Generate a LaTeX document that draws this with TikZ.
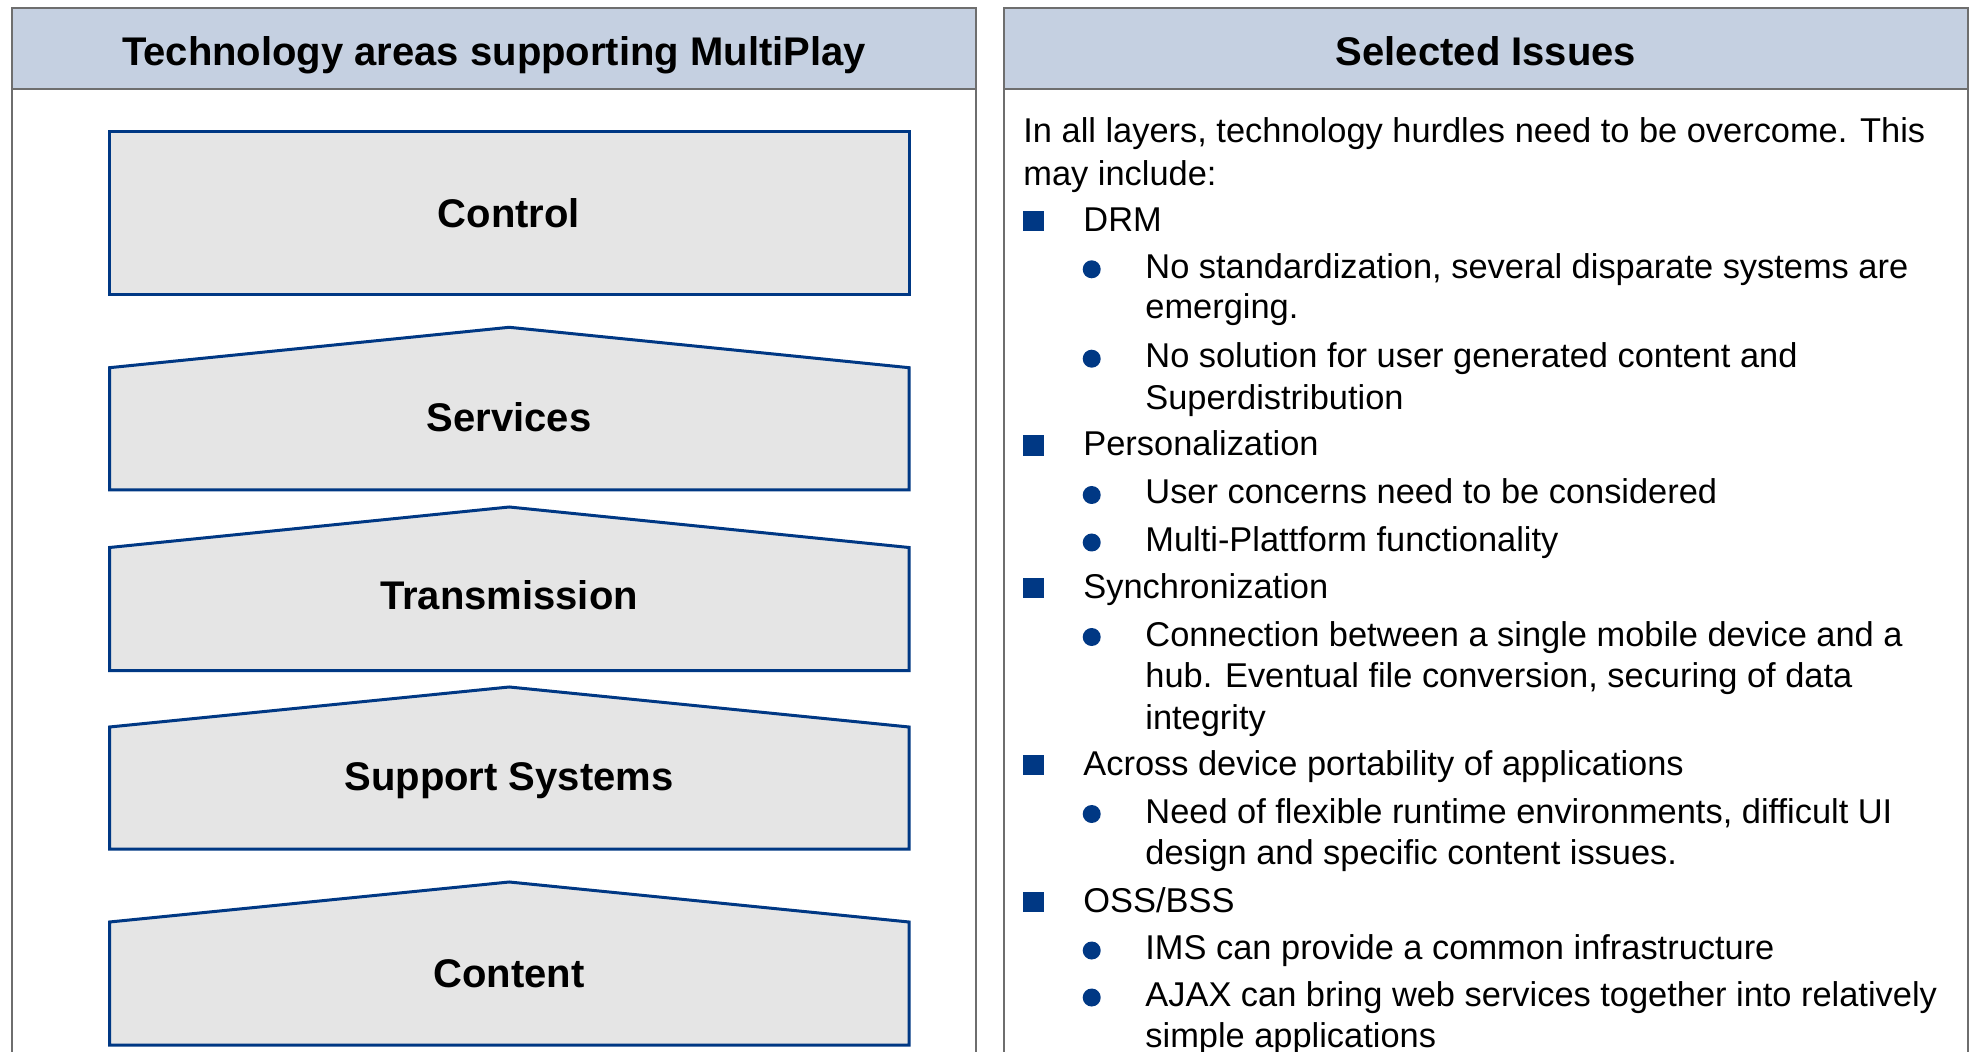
\documentclass[tikz,border=0pt]{standalone}
\usepackage{fontspec}
\setmainfont{Liberation Sans}
\definecolor{hdrblue}{RGB}{197,208,225}
\definecolor{layerfill}{RGB}{229,229,229}
\definecolor{layerline}{RGB}{0,56,132}
\definecolor{panelgray}{RGB}{110,110,110}

\begin{document}
\begin{tikzpicture}[x=0.5pt, y=-0.5pt,
panel/.style={draw=panelgray, line width=1pt},
header/.style={panel, fill=hdrblue},
header-text/.style={font=\fontsize{20}{24}\selectfont\bfseries, anchor=base},
layer/.style={draw=layerline, fill=layerfill, line width=1.5pt, line join=miter},
layer-text/.style={font=\fontsize{20}{24}\selectfont\bfseries, anchor=base},
body/.style={font=\fontsize{17.2}{20.7}\selectfont, anchor=base west, inner sep=0pt},
sq-bullet/.style={rectangle, fill=layerline, minimum size=10.25pt, inner sep=0pt, anchor=south west},
dot-bullet/.style={circle, fill=layerline, minimum size=9pt, inner sep=0pt}
]
\useasboundingbox (0,0) rectangle (1973,1052);
\fill[white] (0,0) rectangle (1973,1052);

% left panel
\draw[header] (12,8) rectangle (976,89.5);
\draw[panel] (12,89.5) -- (12,1060) (976,89.5) -- (976,1060);
\node[header-text] (hdr-tech) at (494,66) {Technology areas supporting MultiPlay};

% right panel
\draw[header] (1004,8) rectangle (1968,89.5);
\draw[panel] (1004,89.5) -- (1004,1060) (1968,89.5) -- (1968,1060);
\node[header-text] (hdr-issues) at (1486,66) {Selected Issues};

% layers
\draw[layer] (109.5,131.7) rectangle (909,295);
\node[layer-text] (control) at (509,228) {Control};

\draw[layer] (109.5,490) -- (109.5,367.7) -- (509.25,327.3) -- (909,367.7) -- (909,490) -- cycle;
\node[layer-text] (services) at (509,432) {Services};

\draw[layer] (109.5,670.5) -- (109.5,547.5) -- (509.25,507) -- (909,547.5) -- (909,670.5) -- cycle;
\node[layer-text] (transmission) at (509,610) {Transmission};

\draw[layer] (109.5,849) -- (109.5,727) -- (509.25,687) -- (909,727) -- (909,849) -- cycle;
\node[layer-text] (support) at (509,790) {Support Systems};

\draw[layer] (109.5,1045) -- (109.5,922) -- (509.25,882) -- (909,922) -- (909,1045) -- cycle;
\node[layer-text] (content) at (509,987) {Content};

% issues text
\node[body] (intro1) at (1023,143) {In all layers, technology hurdles need to be overcome. This};
\node[body] (intro2) at (1023,185.5) {may include:};

\node[sq-bullet] (drm-bullet) at (1022.7,231.7) {};
\node[body] (drm) at (1083,231.7) {DRM};
\node[dot-bullet] (drm-a-bullet) at (1091.7,269.3) {};
\node[body] (drm-a) at (1145,278.3) {No standardization, several disparate systems are};
\node[body] (drm-a2) at (1145,318.5) {emerging.};
\node[dot-bullet] (drm-b-bullet) at (1091.7,358.7) {};
\node[body] (drm-b) at (1145,367.7) {No solution for user generated content and};
\node[body] (drm-b2) at (1145,409.3) {Superdistribution};

\node[sq-bullet] (pers-bullet) at (1022.7,456) {};
\node[body] (pers) at (1083,456) {Personalization};
\node[dot-bullet] (pers-a-bullet) at (1091.7,495) {};
\node[body] (pers-a) at (1145,504) {User concerns need to be considered};
\node[dot-bullet] (pers-b-bullet) at (1091.7,542.5) {};
\node[body] (pers-b) at (1145,551.5) {Multi-Plattform functionality};

\node[sq-bullet] (sync-bullet) at (1022.7,598.5) {};
\node[body] (sync) at (1083,598.5) {Synchronization};
\node[dot-bullet] (sync-a-bullet) at (1091.7,637) {};
\node[body] (sync-a) at (1145,646) {Connection between a single mobile device and a};
\node[body] (sync-a2) at (1145,687.5) {hub. Eventual file conversion, securing of data};
\node[body] (sync-a3) at (1145,729) {integrity};

\node[sq-bullet] (port-bullet) at (1022.7,775.6) {};
\node[body] (port) at (1083,775.6) {Across device portability of applications};
\node[dot-bullet] (port-a-bullet) at (1091.7,814) {};
\node[body] (port-a) at (1145,823) {Need of flexible runtime environments, difficult UI};
\node[body] (port-a2) at (1145,864.5) {design and specific content issues.};

\node[sq-bullet] (oss-bullet) at (1022.7,912.5) {};
\node[body] (oss) at (1083,912.5) {OSS/BSS};
\node[dot-bullet] (oss-a-bullet) at (1091.7,950.5) {};
\node[body] (oss-a) at (1145,959.5) {IMS can provide a common infrastructure};
\node[dot-bullet] (oss-b-bullet) at (1091.7,997.5) {};
\node[body] (oss-b) at (1145,1006.5) {AJAX can bring web services together into relatively};
\node[body] (oss-b2) at (1145,1047.5) {simple applications};

\end{tikzpicture}
\end{document}
